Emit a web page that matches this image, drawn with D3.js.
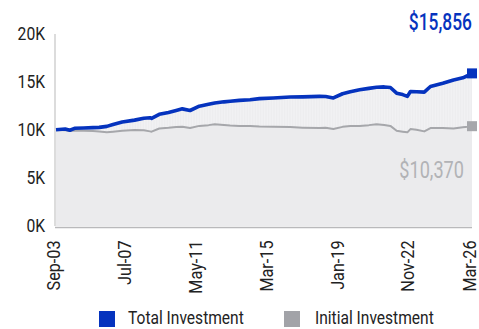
<!DOCTYPE html>
<html>
<head>
<meta charset="utf-8">
<script src="https://cdn.jsdelivr.net/npm/d3@7"></script>
<style>
  html, body { margin: 0; padding: 0; background: #ffffff; }
  svg { display: block; font-family: Roboto, "Noto Sans", sans-serif; }
</style>
</head>
<body>
<svg id="chart" width="479" height="329"></svg>
<script>
// Growth of a $10,000 investment, month-end readings
const dates = [
  "2003-09","2004-03","2004-06","2004-09","2005-03","2005-09","2006-01","2006-06",
  "2006-10","2007-04","2007-12","2008-06","2008-10","2008-11","2009-04","2009-10",
  "2010-03","2010-07","2010-12","2011-06","2011-12","2012-04","2012-10","2013-02",
  "2013-08","2014-03","2014-09","2015-06","2016-05","2017-01","2017-12","2018-04",
  "2018-09","2019-03","2019-08","2020-02","2020-08","2021-01","2021-06","2021-10",
  "2022-02","2022-06","2022-09","2022-11","2023-03","2023-08","2023-12","2024-08",
  "2025-03","2025-09","2025-12","2026-03"
];
const totalInvestment = [
  10000,10080, 9950,10150,10180,10220,10250,10350,
  10550,10800,11000,11200,11250,11180,11600,11800,
  12000,12170,12000,12450,12650,12780,12900,12960,
  13050,13120,13230,13300,13400,13420,13470,13450,
  13300,13740,13950,14150,14300,14420,14450,14390,
  13800,13650,13470,13980,13950,13910,14490,14830,
  15170,15400,15610,15856
];
const initialInvestment = [
  10000, 9950, 9880, 9920, 9900, 9860, 9830, 9740,
   9800, 9900, 9970, 9950, 9830, 9800,10130,10200,
  10280,10300,10180,10400,10480,10560,10500,10450,
  10400,10380,10330,10300,10280,10220,10170,10200,
  10070,10300,10380,10400,10480,10580,10500,10400,
   9900, 9800, 9730,10070,10000, 9830,10170,10170,
  10130,10250,10300,10370
];
const xTickLabels = ["Sep-03","Jul-07","May-11","Mar-15","Jan-19","Nov-22","Mar-26"];
const yTickValues = [0, 5000, 10000, 15000, 20000];
const seriesNames = ["Total Investment", "Initial Investment"];

const BLUE = "#0533be";
const GREY = "#a6a7ab";

const parseMonth = d3.timeParse("%Y-%m");
const parseTick = d3.timeParse("%b-%y");
const rows = dates.map((d, i) => ({
  date: parseMonth(d),
  total: totalInvestment[i],
  initial: initialInvestment[i]
}));

const svg = d3.select("#chart");
const x = d3.scaleTime()
  .domain([parseMonth("2003-09"), parseMonth("2026-03")])
  .range([56, 472]);
const y = d3.scaleLinear().domain([0, 20000]).range([226, 33.5]);

// condensed look: squeeze a label horizontally about its anchor point (ax, ay)
function squeeze(ax, ay, f, extra) {
  return `${extra || ""} translate(${ax},${ay}) scale(${f},1) translate(${-ax},${-ay})`;
}

// stripe texture for the band between the two lines
const defs = svg.append("defs");
const pat = defs.append("pattern")
  .attr("id", "stripes").attr("patternUnits", "userSpaceOnUse")
  .attr("width", 1.6).attr("height", 10);
pat.append("rect").attr("width", 1.6).attr("height", 10).attr("fill", "#ececee");
pat.append("rect").attr("width", 0.5).attr("height", 10).attr("fill", "#f7f7f8");

// area under the total line
svg.append("path")
  .datum(rows)
  .attr("fill", "#ebebed")
  .attr("d", d3.area().x(d => x(d.date)).y0(y(0)).y1(d => y(d.total)));

// striped band between the initial and total lines
svg.append("path")
  .datum(rows)
  .attr("fill", "url(#stripes)")
  .attr("d", d3.area().x(d => x(d.date)).y0(d => y(d.initial)).y1(d => y(d.total)));

// left axis rule
svg.append("line")
  .attr("x1", 55).attr("x2", 55).attr("y1", 34).attr("y2", y(0))
  .attr("stroke", "#dcdcdc").attr("stroke-width", 2);

// y axis labels
const yAxis = svg.append("g")
  .attr("transform", "translate(45,0)")
  .call(d3.axisLeft(y).tickValues(yTickValues).tickSize(0).tickPadding(0)
    .tickFormat(d => (d / 1000) + "K"));
yAxis.select(".domain").remove();
yAxis.selectAll("text")
  .attr("font-size", 18).attr("fill", "#222").attr("font-family", "Roboto")
  .attr("x", 0)
  .attr("transform", squeeze(0, 0, 0.87));

// x axis
const xf = 0.9;
const xAxis = svg.append("g")
  .attr("transform", `translate(0,${y(0) + 1.5})`)
  .call(d3.axisBottom(x).tickValues(xTickLabels.map(parseTick)).tickSize(0)
    .tickFormat(d3.timeFormat("%b-%y")));
xAxis.select(".domain")
  .attr("d", `M55,0H472`).attr("stroke", "#b9b9bb").attr("stroke-width", 1.6);
xAxis.selectAll("text")
  .attr("font-size", 18).attr("fill", "#222").attr("font-family", "Roboto")
  .attr("text-anchor", "end")
  .attr("y", 0)
  .attr("x", -13)
  .attr("dx", 0)
  .attr("dy", 3.5)
  .attr("transform", squeeze(-13, 0, xf, "rotate(-90)"));

// lines
svg.append("path")
  .datum(rows)
  .attr("fill", "none").attr("stroke", GREY).attr("stroke-width", 2)
  .attr("stroke-linejoin", "round")
  .attr("d", d3.line().x(d => x(d.date)).y(d => y(d.initial)));
svg.append("path")
  .datum(rows)
  .attr("fill", "none").attr("stroke", BLUE).attr("stroke-width", 3.6)
  .attr("stroke-linejoin", "round")
  .attr("d", d3.line().x(d => x(d.date)).y(d => y(d.total)));

// end markers and value labels
const last = rows[rows.length - 1];
svg.append("rect")
  .attr("x", x(last.date) - 5).attr("y", y(last.initial) - 5)
  .attr("width", 10).attr("height", 10).attr("fill", GREY);
svg.append("rect")
  .attr("x", x(last.date) - 5).attr("y", y(last.total) - 5)
  .attr("width", 10).attr("height", 10).attr("fill", BLUE);

const fmt = d3.format("$,");
svg.append("text")
  .attr("x", 472).attr("y", 30).attr("text-anchor", "end")
  .attr("font-size", 23.5).attr("font-weight", 500).attr("fill", BLUE)
  .attr("transform", squeeze(472, 30, 0.74))
  .text(fmt(last.total));
svg.append("text")
  .attr("x", 464).attr("y", 178).attr("text-anchor", "end")
  .attr("font-size", 24.5).attr("fill", "#b2b3b6")
  .attr("transform", squeeze(464, 178, 0.74))
  .text(fmt(last.initial));

// legend
const legendItems = [
  { name: seriesNames[0], color: BLUE, sx: 99, tx: 128 },
  { name: seriesNames[1], color: "#a2a3a8", sx: 284, tx: 315 }
];
const lg = svg.append("g");
legendItems.forEach(it => {
  lg.append("rect").attr("x", it.sx).attr("y", 311).attr("width", 16).attr("height", 16)
    .attr("fill", it.color);
  lg.append("text").attr("x", it.tx).attr("y", 324)
    .attr("font-size", 17.5).attr("fill", "#222")
    .attr("transform", squeeze(it.tx, 324, 0.89))
    .text(it.name);
});
</script>
</body>
</html>
